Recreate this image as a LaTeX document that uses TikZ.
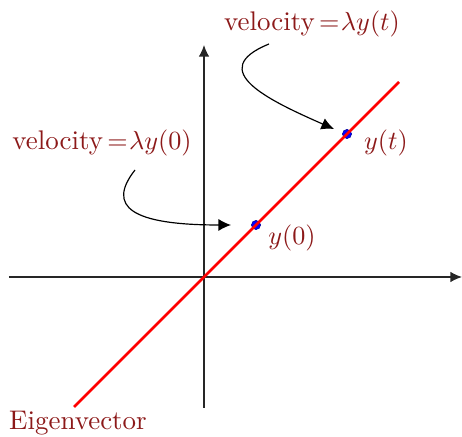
\documentclass[tikz,border=0pt]{standalone}
\usetikzlibrary{arrows.meta}
\definecolor{lblred}{rgb}{0.55,0.1,0.1}
\begin{document}
\begin{tikzpicture}[x=0.382pt,y=-0.382pt,
  lbl/.style={text=lblred,inner sep=0pt,font=\fontsize{10.3}{12}\selectfont},
  axis/.style={draw=black!85,line width=0.5pt,-{Latex[length=4.4pt,width=4pt]}},
  curvearrow/.style={draw=black,line width=0.45pt,-{Latex[length=4.8pt,width=4.6pt]}},
  dot/.style={circle,fill=blue,draw=blue!60!black,line width=0.2pt,minimum size=3.5pt,inner sep=0pt},
  eig/.style={draw=red,line width=1pt}]
\useasboundingbox (0,0) rectangle (462,437);
% axes
\coordinate (xs) at (9,277);
\coordinate (xe) at (462,277);
\coordinate (ys) at (204,408);
\coordinate (ye) at (204,45);
\draw[axis] (xs) -- (xe);
\draw[axis] (ys) -- (ye);
% points
\node[dot] (p0) at (256,225) {};
\node[dot] (pt) at (347,134) {};
% eigenvector line
\coordinate (e1) at (74,407);
\coordinate (e2) at (399,82);
\draw[eig] (e1) -- (e2);
% labels
\node[lbl] (v0) at (102,143) {velocity$\mkern3mu{=}\mkern1mu\lambda y(0)$};
\node[lbl] (vt) at (312,24) {velocity$\mkern3mu{=}\mkern1mu\lambda y(t)$};
\node[lbl] (l0) at (292,238) {$y(0)$};
\node[lbl] (lt) at (386,143) {$y(t)$};
\node[lbl] (ev) at (78,423) {Eigenvector};
% curved arrows
\coordinate (a1s) at (135,170);
\coordinate (a1e) at (231,225);
\coordinate (a2s) at (269,44);
\coordinate (a2e) at (334,129);
\draw[curvearrow] (a1s) .. controls (106,207) and (132,225) .. (a1e);
\draw[curvearrow] (a2s) .. controls (205,70) and (268,100) .. (a2e);
\end{tikzpicture}
\end{document}
